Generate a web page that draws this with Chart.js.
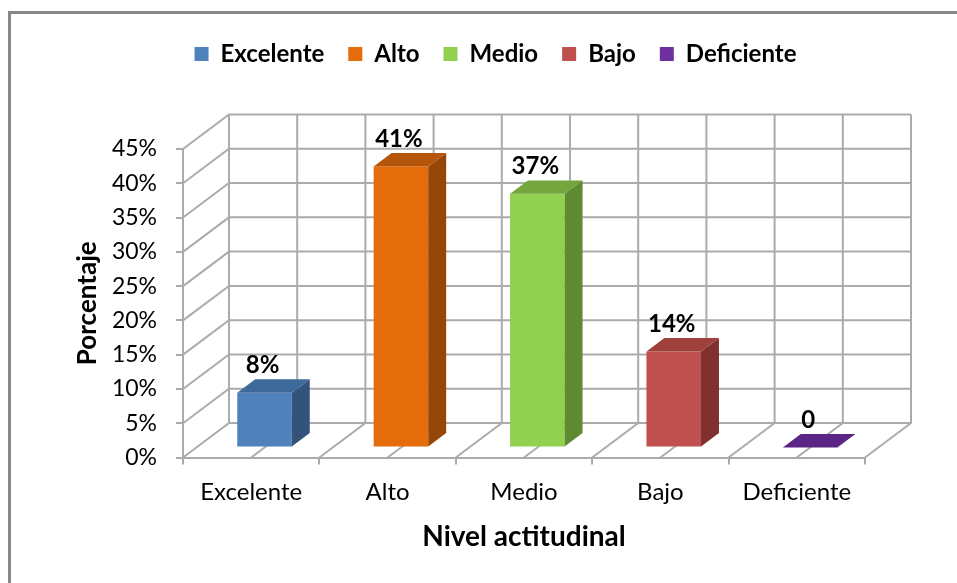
<!DOCTYPE html>
<html>
<head>
<meta charset="utf-8">
<script src="https://cdn.jsdelivr.net/npm/chart.js@4.4.1/dist/chart.umd.min.js"></script>
<style>
html, body { margin: 0; padding: 0; background: #fff; overflow: hidden; }
#frame { position: absolute; left: 8px; top: 11px; width: 1000px; height: 700px; border: 3px solid #888; }
#wrap { position: absolute; left: 0; top: 0; width: 957px; height: 583px; }
</style>
</head>
<body>
<div id="frame"></div>
<div id="wrap"><canvas id="barChart" width="957" height="583"></canvas></div>
<script>
// data
var categories = ['Excelente', 'Alto', 'Medio', 'Bajo', 'Deficiente'];
var porcentajes = [8, 41, 37, 14, 0];
var etiquetas = ['8%', '41%', '37%', '14%', '0'];
var yMax = 45;
var yStep = 5;

// colours (front, top, side)
var frontColors = ['#4f81bd', '#e46c0a', '#92d050', '#c0504d', '#7030a0'];
var topColors = ['#3e6a9b', '#b55509', '#74a53e', '#a0403d', '#5a2585'];
var sideColors = ['#34537b', '#974607', '#5f8a31', '#80302e', '#4a1e6e'];
var gridColor = '#ababab';
var fontFamily = 'Lato, "Open Sans", sans-serif';

// 3d geometry: floor depth and where the bars sit in it
var DX = 46, DY = -34.5;
var barFront = 0.29, barDepth = 0.39;
var BX = DX * barFront, BY = DY * barFront;
var ddx = DX * barDepth, ddy = DY * barDepth;

var legendTop = 18;
var plotTop = 149;

const threeD = {
    id: 'threeD',
    beforeInit(chart) {
        // push the plot down below the legend
        const fit = chart.legend.fit;
        chart.legend.fit = function () {
            fit.bind(chart.legend)();
            this.height = plotTop - legendTop;
        };
    },
    afterLayout(chart) {
        chart.legend.left += 30;
        chart.legend.right += 30;
    },
    beforeDatasetsDraw(chart) {
        const { ctx, chartArea: ca, scales: { x, y } } = chart;
        ctx.save();
        ctx.strokeStyle = gridColor;
        ctx.lineWidth = 2;
        ctx.beginPath();
        y.ticks.forEach(t => {
            const py = y.getPixelForValue(t.value);
            ctx.moveTo(ca.left, py);
            ctx.lineTo(ca.left + DX, py + DY);
            ctx.lineTo(ca.right + DX, py + DY);
        });
        const n = categories.length;
        for (let k = 0; k <= 2 * n; k++) {
            const px = x.getPixelForValue(k / 2 - 0.5);
            ctx.moveTo(px, ca.bottom);
            ctx.lineTo(px + DX, ca.bottom + DY);
            ctx.lineTo(px + DX, ca.top + DY);
        }
        ctx.stroke();
        ctx.restore();
        // bars' front faces are drawn a bit into the floor
        ctx.save();
        ctx.translate(BX, BY);
    },
    afterDatasetsDraw(chart) {
        const ctx = chart.ctx;
        ctx.restore();
        const meta = chart.getDatasetMeta(0);
        meta.data.forEach((bar, i) => {
            const left = bar.x - bar.width / 2 + BX;
            const right = bar.x + bar.width / 2 + BX;
            const top = bar.y + BY;
            const bottom = bar.base + BY;
            ctx.save();
            // side
            ctx.fillStyle = sideColors[i];
            ctx.beginPath();
            ctx.moveTo(right, top);
            ctx.lineTo(right + ddx, top + ddy);
            ctx.lineTo(right + ddx, bottom + ddy);
            ctx.lineTo(right, bottom);
            ctx.closePath();
            ctx.fill();
            // top
            ctx.fillStyle = topColors[i];
            ctx.beginPath();
            ctx.moveTo(left, top);
            ctx.lineTo(left + ddx, top + ddy);
            ctx.lineTo(right + ddx, top + ddy);
            ctx.lineTo(right, top);
            ctx.closePath();
            ctx.fill();
            // value label
            ctx.fillStyle = '#000';
            ctx.font = 'bold 24px ' + fontFamily;
            ctx.textAlign = 'center';
            ctx.textBaseline = 'middle';
            ctx.fillText(etiquetas[i], bar.x + BX - 2, top + ddy - 14);
            ctx.restore();
        });
    }
};

const config = {
    type: 'bar',
    data: {
        labels: categories,
        datasets: [{
            data: porcentajes,
            backgroundColor: frontColors,
            borderWidth: 0,
            barPercentage: 0.4,
            categoryPercentage: 1.0
        }]
    },
    options: {
        responsive: false,
        animation: false,
        layout: { padding: { top: legendTop, left: 66, right: 92, bottom: 0 } },
        plugins: {
            legend: {
                display: true,
                position: 'top',
                labels: {
                    boxWidth: 14,
                    boxHeight: 14,
                    padding: 24,
                    color: '#000',
                    font: { family: fontFamily, size: 24, weight: 'bold' },
                    generateLabels: function () {
                        return categories.map((c, i) => ({
                            text: c,
                            fillStyle: frontColors[i],
                            strokeStyle: frontColors[i],
                            lineWidth: 0,
                            fontColor: '#000',
                            index: i
                        }));
                    }
                }
            },
            tooltip: { enabled: false }
        },
        scales: {
            x: {
                grid: { display: true, drawOnChartArea: false, drawTicks: true, tickLength: 7, color: gridColor, lineWidth: 2, offset: true },
                border: { display: true, color: gridColor, width: 2 },
                ticks: { color: '#000', padding: 13, font: { family: fontFamily, size: 24 } },
                title: {
                    display: true,
                    text: 'Nivel actitudinal',
                    color: '#000',
                    font: { family: fontFamily, size: 28, weight: 'bold' },
                    padding: { top: 0, bottom: 29 }
                },
                afterFit: function (scale) { scale.height = 125.5; }
            },
            y: {
                min: 0,
                max: yMax,
                grid: { display: true, drawOnChartArea: false, drawTicks: true, tickLength: 7, color: gridColor, lineWidth: 2 },
                border: { display: true, color: gridColor, width: 2 },
                ticks: {
                    stepSize: yStep,
                    color: '#000',
                    padding: 19,
                    font: { family: fontFamily, size: 23 },
                    callback: function (value) { return value + '%'; }
                },
                title: {
                    display: true,
                    text: 'Porcentaje',
                    color: '#000',
                    font: { family: fontFamily, size: 26, weight: 'bold' },
                    padding: { top: 6, bottom: 0 }
                },
                afterFit: function (scale) { scale.width = 117; }
            }
        }
    },
    plugins: [threeD]
};

var myBarChart = new Chart(document.getElementById('barChart'), config);
</script>
</body>
</html>
